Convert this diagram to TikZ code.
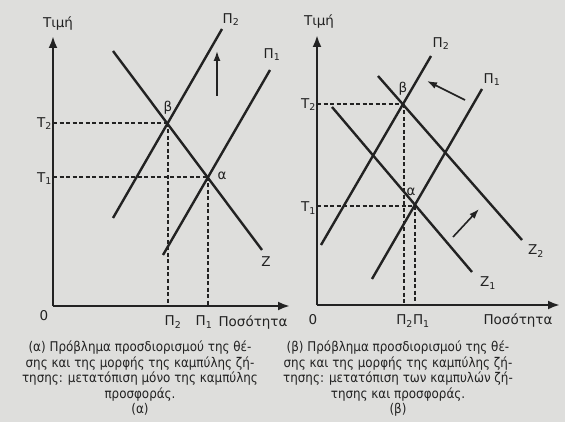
\documentclass[tikz,border=0pt]{standalone}
\usepackage{fontspec}
\setmainfont{DejaVu Sans}
\newfontfamily\capfont{DejaVu Sans}[FakeStretch=0.89]
\usetikzlibrary{arrows.meta}
\definecolor{bgc}{RGB}{222,222,220}
\definecolor{ink}{RGB}{34,34,34}
\begin{document}
\begin{tikzpicture}[x=1pt,y=-1pt,
  curve/.style={draw=ink,line width=2.4pt},
  axisline/.style={draw=ink,line width=2.6pt,-{Latex[length=12pt,width=9pt]}},
  guide/.style={draw=ink,line width=1.4pt,dash pattern=on 4pt off 2.5pt},
  movearrow/.style={draw=ink,line width=1.6pt,-{Latex[length=10pt,width=7pt]}},
  lbl/.style={text=ink,inner sep=0pt,font=\fontsize{13.5}{15}\selectfont},
  captext/.style={text=ink,inner sep=0pt,align=center,anchor=north,font=\capfont\fontsize{13.4}{15.5}\selectfont}]
\fill[bgc] (0,0) rectangle (565,422);
\useasboundingbox (0,0) rectangle (565,422);
% ---------- left panel ----------
\coordinate (aO) at (53,306);
\coordinate (aY) at (53,36);
\coordinate (aX) at (290,306);
\coordinate (b) at (168,123);
\coordinate (a) at (208,177);
\coordinate (aT2) at (53,123);
\coordinate (aT1) at (53,177);
\coordinate (bB) at (168,306);
\coordinate (aB) at (208,306);
\coordinate (p2s) at (113,218);
\coordinate (p2e) at (222,29);
\coordinate (p1s) at (163,255);
\coordinate (p1e) at (270,70);
\coordinate (zs) at (113,51);
\coordinate (ze) at (262,250);
\coordinate (up1) at (217,96);
\coordinate (up2) at (217,51);
\draw[guide] (aT2) -- (b);
\draw[guide] (aT1) -- (a);
\draw[guide] (b) -- (bB);
\draw[guide] (a) -- (aB);
\draw[curve] (p2s) -- (p2e);
\draw[curve] (p1s) -- (p1e);
\draw[curve] (zs) -- (ze);
\draw[movearrow] (up1) -- (up2);
\draw[axisline] (aO) -- (aY);
\draw[axisline] (aO) -- (aX);
\node[lbl] (ltimi) at (58,24) {Τιμή};
\node[lbl,anchor=east] (lT2) at (52,124) {T\textsubscript{2}};
\node[lbl,anchor=east] (lT1) at (52,179) {T\textsubscript{1}};
\node[lbl] (lzero) at (44,316) {0};
\node[lbl] (lbeta) at (168,108) {β};
\node[lbl] (lalpha) at (222,176) {α};
\node[lbl] (lP2top) at (231,20) {Π\textsubscript{2}};
\node[lbl] (lP1top) at (272,55) {Π\textsubscript{1}};
\node[lbl] (lZ) at (266,262) {Z};
\node[lbl] (lP2bot) at (173,322) {Π\textsubscript{2}};
\node[lbl] (lP1bot) at (204,322) {Π\textsubscript{1}};
\node[lbl] (lqty) at (253,323) {Ποσότητα};
\node[captext] (capa) at (140,341) {(α) Πρόβλημα προσδιορισμού της θέ-\\σης και της μορφής της καμπύλης ζή-\\τησης: μετατόπιση μόνο της καμπύλης\\προσφοράς.\\(α)};
% ---------- right panel ----------
\coordinate (bO) at (317,305);
\coordinate (bY) at (317,35);
\coordinate (bX) at (560,305);
\coordinate (rb) at (404,104);
\coordinate (ra) at (415,206);
\coordinate (rT2) at (317,104);
\coordinate (rT1) at (317,206);
\coordinate (rbB) at (404,305);
\coordinate (raB) at (415,305);
\coordinate (q2s) at (321,245);
\coordinate (q2e) at (431,56);
\coordinate (q1s) at (372,279);
\coordinate (q1e) at (482,89);
\coordinate (z1s) at (332,107);
\coordinate (z1e) at (472,272);
\coordinate (z2s) at (378,76);
\coordinate (z2e) at (522,240);
\coordinate (s1a) at (465,100);
\coordinate (s1b) at (427,81);
\coordinate (s2a) at (453,237);
\coordinate (s2b) at (479,209);
\draw[guide] (rT2) -- (rb);
\draw[guide] (rT1) -- (ra);
\draw[guide] (rb) -- (rbB);
\draw[guide] (ra) -- (raB);
\draw[curve] (q2s) -- (q2e);
\draw[curve] (q1s) -- (q1e);
\draw[curve] (z1s) -- (z1e);
\draw[curve] (z2s) -- (z2e);
\draw[movearrow] (s1a) -- (s1b);
\draw[movearrow] (s2a) -- (s2b);
\draw[axisline] (bO) -- (bY);
\draw[axisline] (bO) -- (bX);
\node[lbl] (rtimi) at (319,22) {Τιμή};
\node[lbl,anchor=east] (rT2l) at (316,105) {T\textsubscript{2}};
\node[lbl,anchor=east] (rT1l) at (316,208) {T\textsubscript{1}};
\node[lbl] (rzero) at (313,320) {0};
\node[lbl] (rbeta) at (403,89) {β};
\node[lbl] (ralpha) at (411,192) {α};
\node[lbl] (rP2top) at (441,44) {Π\textsubscript{2}};
\node[lbl] (rP1top) at (492,80) {Π\textsubscript{1}};
\node[lbl] (rZ1) at (488,283) {Z\textsubscript{1}};
\node[lbl] (rZ2) at (536,251) {Z\textsubscript{2}};
\node[lbl] (rP21) at (413,321) {Π\textsubscript{2}Π\textsubscript{1}};
\node[lbl] (rqty) at (518,321) {Ποσότητα};
\node[captext] (capb) at (398,341) {(β) Πρόβλημα προσδιορισμού της θέ-\\σης και της μορφής της καμπύλης ζή-\\τησης: μετατόπιση των καμπυλών ζή-\\τησης και προσφοράς.\\(β)};
\end{tikzpicture}
\end{document}
